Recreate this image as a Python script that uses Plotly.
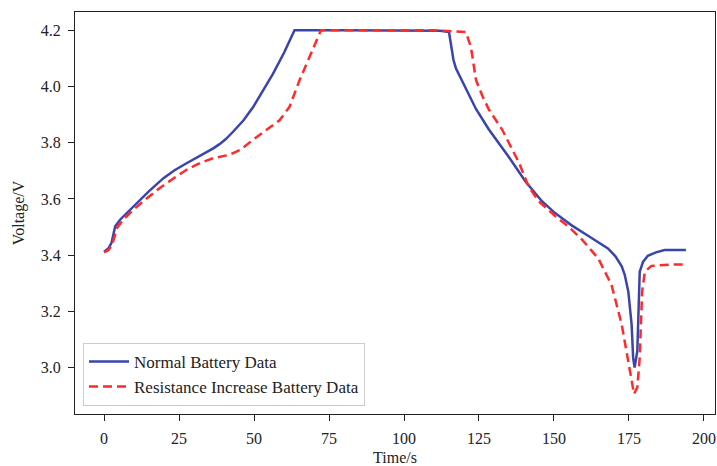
import plotly.graph_objects as go

t_normal = [0, 1.5, 2.5, 3.7, 5.4, 8, 10.9, 15, 19.8, 23.5, 27.5, 32, 36.4, 38.5, 40.5, 43, 46.5, 49.7, 53, 56.3, 60,
            63.5, 80, 100, 112, 115, 116.5, 117.3, 120.6, 124, 128.3, 134.9, 140.5, 146, 150, 155.9, 161.5, 165, 168,
            170.5, 172.6, 173.6, 174.8, 175.9, 176.4, 176.9, 177.8, 178.6, 179.7, 181.3, 184, 186.9, 190, 194]
v_normal = [3.412, 3.425, 3.445, 3.503, 3.527, 3.555, 3.586, 3.628, 3.674, 3.702, 3.727, 3.753, 3.78, 3.795, 3.812,
            3.839, 3.88, 3.927, 3.985, 4.045, 4.12, 4.2,
            4.2, 4.2, 4.198, 4.194, 4.094, 4.065, 3.994, 3.92, 3.847, 3.75, 3.662, 3.592, 3.553, 3.506, 3.468, 3.445,
            3.424, 3.396, 3.36, 3.33, 3.27, 3.153, 3.035, 3.0, 3.059, 3.341, 3.376, 3.398, 3.41, 3.418, 3.418, 3.418]

t_resist = [0, 1.5, 2.8, 4.3, 6.5, 9.8, 14, 18.6, 23, 27.5, 32, 36.4, 41.8, 45.5, 49.6, 54, 58.5, 61.8, 65.2, 69.5,
            72.3, 90, 110, 120.6, 122.3, 124, 126.2, 128.3, 132.7, 138.3, 141.5, 144.9, 150.4, 155, 159.3, 164.8,
            169.2, 172.6, 174.2, 175.6, 176.7, 177.8, 178.6, 179.4, 180.3, 182.5, 186.9, 190, 194]
v_resist = [3.41, 3.418, 3.44, 3.497, 3.528, 3.562, 3.6, 3.639, 3.672, 3.704, 3.728, 3.745, 3.757, 3.775, 3.81, 3.845,
            3.88, 3.927, 4.023, 4.13, 4.2,
            4.2, 4.2, 4.194, 4.141, 4.023, 3.965, 3.918, 3.847, 3.73, 3.645, 3.592, 3.539, 3.5, 3.456, 3.388, 3.294,
            3.153, 3.059, 2.976, 2.906, 2.93, 3.035, 3.27, 3.341, 3.362, 3.366, 3.367, 3.367]

x_ticks = [0, 25, 50, 75, 100, 125, 150, 175, 200]
y_ticks = [3.0, 3.2, 3.4, 3.6, 3.8, 4.0, 4.2]

font_family = "Liberation Serif, Times New Roman, serif"

fig = go.Figure()
fig.add_trace(go.Scatter(x=t_normal, y=v_normal, mode="lines", name="Normal Battery Data",
                         line=dict(color="#3a45ac", width=2.5)))
fig.add_trace(go.Scatter(x=t_resist, y=v_resist, mode="lines", name="Resistance Increase Battery Data",
                         line=dict(color="#ff2a2a", width=2.5, dash="9px,5px")))

axis_common = dict(showline=True, linecolor="#222", linewidth=1.3, mirror=True, ticks="outside",
                   ticklen=6, tickcolor="#222", showgrid=False, zeroline=False, ticklabelstandoff=4,
                   tickfont=dict(family=font_family, size=16, color="#222"))

fig.update_layout(
    width=717, height=466,
    margin=dict(l=75, r=1, t=12, b=50),
    paper_bgcolor="white", plot_bgcolor="white",
    font=dict(family=font_family, size=16, color="#222"),
    xaxis=dict(range=[-9.7, 203.7], tickvals=x_ticks, ticktext=[str(v) for v in x_ticks],
               title=dict(text="Time/s", standoff=6, font=dict(family=font_family, size=16)), **axis_common),
    yaxis=dict(range=[2.835, 4.265], tickvals=y_ticks, ticktext=[f"{v:.1f}" for v in y_ticks],
               title=dict(text="Voltage/V", standoff=12, font=dict(family=font_family, size=16)), **axis_common),
    legend=dict(x=0.0125, y=0.02, xanchor="left", yanchor="bottom", bgcolor="white",
                bordercolor="#cccccc", borderwidth=1, font=dict(family=font_family, size=17, color="#222"),
                itemwidth=40, tracegroupgap=2),
    showlegend=True,
)

fig.write_html("out.html", config={"displayModeBar": False},
               post_script="document.body.style.margin='0';document.body.style.padding='0';")
